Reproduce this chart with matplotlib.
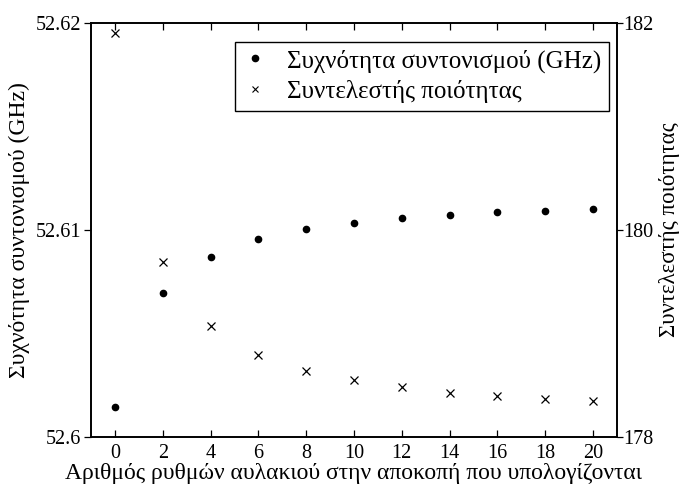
import numpy as np
from matplotlib import pyplot as plt
from matplotlib.lines import Line2D

# number of groove harmonics kept in the truncation
n_terms = [0, 2, 4, 6, 8, 10, 12, 14, 16, 18, 20]

# resonant frequency in GHz
freq_ghz = [52.60146, 52.60698, 52.60871, 52.60955, 52.61003, 52.61035,
            52.61056, 52.61072, 52.61085, 52.61092, 52.61101]

# quality factor
q_factor = [181.90, 179.69, 179.07, 178.79, 178.64, 178.55,
            178.48, 178.43, 178.40, 178.37, 178.35]

x_ticks = [0, 2, 4, 6, 8, 10, 12, 14, 16, 18, 20]
left_ticks = [52.60, 52.61, 52.62]
left_ticklabels = ["52.6", "52.61", "52.62"]
right_ticks = [178, 180, 182]

plt.rcParams["font.family"] = ["Liberation Serif", "DejaVu Serif"]
plt.rcParams["font.size"] = 14.5

fig, ax = plt.subplots()
fig.set_size_inches(6.8, 4.9)
fig.subplots_adjust(left=0.134, right=0.907, top=0.953, bottom=0.108)

ax2 = ax.twinx()

# frequency on the left axis
ax.plot(n_terms, freq_ghz, "o", color="black", markersize=4.5, linestyle="none")
# quality factor on the right axis
ax2.plot(n_terms, q_factor, "x", color="black", markersize=6,
         markeredgewidth=0.9, linestyle="none")

ax.set_xlim(-1, 21)
ax.set_ylim(52.60, 52.62)
ax2.set_ylim(178, 182)

ax.set_xticks(x_ticks)
ax.set_yticks(left_ticks)
ax.set_yticklabels(left_ticklabels)
ax2.set_yticks(right_ticks)

ax.tick_params(axis="x", direction="in", top=True, length=5, width=0.9, pad=5)
ax.tick_params(axis="y", direction="out", length=5, width=0.9, pad=2)
ax2.tick_params(axis="y", direction="out", length=4, width=0.9, pad=1)

for spine in list(ax.spines.values()) + list(ax2.spines.values()):
    spine.set_linewidth(1.2)

ax.set_xlabel("Αριθμός ρυθμών αυλακιού στην αποκοπή που υπολογίζονται",
              fontsize=17, labelpad=0)
ax.set_ylabel("Συχνότητα συντονισμού (GHz)", fontsize=17, labelpad=4)
ax2.set_ylabel("Συντελεστής ποιότητας", fontsize=16.5)
ax2.yaxis.set_label_coords(1.081, 0.5)

# combined legend for both axes
handles = [
    Line2D([0], [0], marker="o", color="black", linestyle="none",
           markersize=4.5, label="Συχνότητα συντονισμού (GHz)"),
    Line2D([0], [0], marker="x", color="black", linestyle="none",
           markersize=5, markeredgewidth=0.8, label="Συντελεστής ποιότητας"),
]
leg = ax2.legend(handles=handles, loc="upper right",
                 bbox_to_anchor=(0.985, 0.955), fancybox=False,
                 framealpha=1, edgecolor="black", handlelength=1.0,
                 handletextpad=0.8, borderpad=0.3, labelspacing=0.3,
                 borderaxespad=0, fontsize=18)
leg.get_frame().set_linewidth(1.0)

fig.savefig("out.png", dpi=100)
